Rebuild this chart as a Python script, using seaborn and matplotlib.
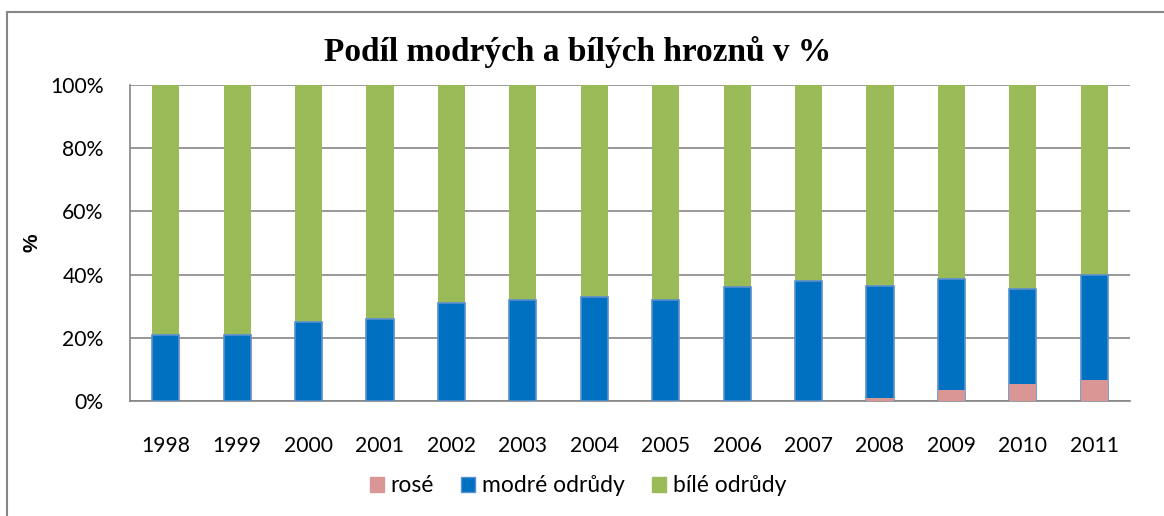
import numpy as np
import pandas as pd
import seaborn as sns
import matplotlib
matplotlib.use("Agg")
import matplotlib.pyplot as plt
from matplotlib.patches import Patch
from matplotlib.lines import Line2D
from matplotlib.ticker import FuncFormatter

# values (% of total)
years = [1998, 1999, 2000, 2001, 2002, 2003, 2004, 2005, 2006, 2007, 2008, 2009, 2010, 2011]
rose = [0, 0, 0, 0, 0, 0, 0, 0, 0, 0, 1, 3.5, 5.5, 6.5]
modre = [21, 21, 25, 26, 31, 32, 33, 32, 36, 38, 35.5, 35, 30, 33.5]
bile = [79, 79, 75, 74, 69, 68, 67, 68, 64, 62, 63.5, 61.5, 64.5, 60]

series_names = ["rosé", "modré odrůdy", "bílé odrůdy"]
colors = {"rosé": "#D99694", "modré odrůdy": "#0070C0", "bílé odrůdy": "#9BBB59"}

df = pd.DataFrame({"rok": [str(y) for y in years], "rose": rose, "modre": modre, "bile": bile})
# stacked tops
df["top_rose"] = df["rose"]
df["top_modre"] = df["rose"] + df["modre"]
df["top_bile"] = df["top_modre"] + df["bile"]

sns.set_style("white")
plt.rcParams["font.family"] = ["Lato", "DejaVu Sans"]
plt.rcParams["text.color"] = "black"
plt.rcParams["axes.labelcolor"] = "black"

fig = plt.figure(figsize=(11.64, 5.16), dpi=100)
ax = fig.add_axes([130 / 1164, 1 - 401 / 516, 1000 / 1164, 316 / 516])

bw = 0.38
sns.barplot(data=df, x="rok", y="top_bile", color=colors["bílé odrůdy"], width=bw,
            saturation=1, linewidth=0, ax=ax, zorder=3)
sns.barplot(data=df, x="rok", y="top_modre", color=colors["modré odrůdy"], width=bw,
            saturation=1, linewidth=1.2, edgecolor="#5B8FD0", ax=ax, zorder=3)
sns.barplot(data=df, x="rok", y="top_rose", color=colors["rosé"], width=bw,
            saturation=1, linewidth=0, ax=ax, zorder=3)

ax.set_ylim(0, 100)
ax.set_xlim(-0.5, len(years) - 0.5)
ax.set_yticks([0, 20, 40, 60, 80, 100])
ax.yaxis.set_major_formatter(FuncFormatter(lambda v, p: f"{int(v)}%"))
ax.grid(axis="y", color="#868686", linewidth=1.2, zorder=0)
ax.set_axisbelow(True)
for s in ["top", "right"]:
    ax.spines[s].set_visible(False)
for s in ["left", "bottom"]:
    ax.spines[s].set_color("#868686")
    ax.spines[s].set_linewidth(1.2)
ax.tick_params(axis="both", length=0, labelsize=15.2, colors="black")
ax.tick_params(axis="x", pad=25)
ax.tick_params(axis="y", pad=19)
ax.set_xlabel("")
ax.set_ylabel("%", fontsize=15, fontweight="bold", color="black",
              family=["Liberation Sans", "DejaVu Sans"], labelpad=6)

fig.text(578 / 1164, 1 - 52 / 516, "Podíl modrých a bílých hroznů v %", ha="center", va="center",
         fontsize=24, fontweight="bold", color="black", family=["Liberation Serif", "DejaVu Serif"])

handles = [Patch(facecolor=colors[n], edgecolor=colors[n] if n != "modré odrůdy" else "#5B8FD0")
           for n in series_names]
fig.legend(handles, series_names, loc="center", bbox_to_anchor=(578 / 1164, 1 - 486 / 516),
           ncol=3, frameon=False, fontsize=16.5, handlelength=0.6, handleheight=0.6,
           handletextpad=0.3, columnspacing=1.2, labelcolor="black")

# chart frame, only left/top edge visible in the crop
fig.add_artist(Line2D([7 / 1164, 7 / 1164], [0, 1 - 12 / 516], color="#868686", lw=1.5))
fig.add_artist(Line2D([7 / 1164, 1], [1 - 12 / 516, 1 - 12 / 516], color="#868686", lw=1.5))

fig.savefig("out.png", dpi=100)
